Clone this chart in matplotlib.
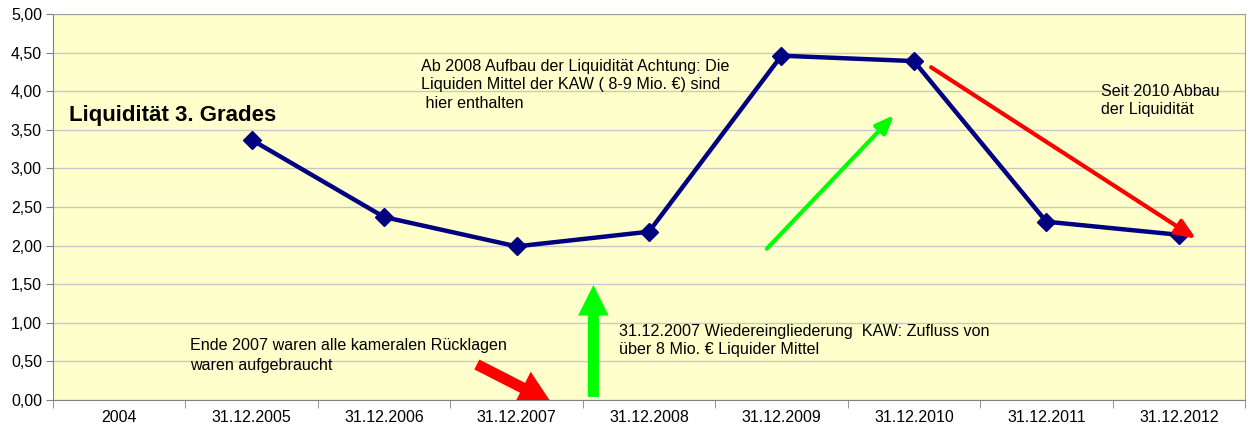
import numpy as np
import matplotlib
matplotlib.use("Agg")
import matplotlib.pyplot as plt
from matplotlib.ticker import FuncFormatter, FixedLocator

categories = ["2004", "31.12.2005", "31.12.2006", "31.12.2007", "31.12.2008",
              "31.12.2009", "31.12.2010", "31.12.2011", "31.12.2012"]
values = [np.nan, 3.37, 2.37, 1.99, 2.18, 4.46, 4.39, 2.31, 2.14]
y_ticks = [0, 0.5, 1, 1.5, 2, 2.5, 3, 3.5, 4, 4.5, 5]

plt.rcParams['font.family'] = ['Liberation Sans', 'DejaVu Sans']

fig = plt.figure(figsize=(12.51, 4.32), dpi=100)
ax = fig.add_axes([53/1251, 32/432, (1245-53)/1251, (400-14)/432])
ax.set_facecolor("#FFFFCC")

x = np.arange(len(categories))
ax.plot(x, values, color="#000080", lw=3.2, marker="D", markersize=9,
        markerfacecolor="#000080", markeredgecolor="#000080", zorder=5)

ax.set_xlim(-0.5, len(categories) - 0.5)
ax.set_ylim(0, 5)
ax.set_yticks(y_ticks)
ax.yaxis.set_major_formatter(FuncFormatter(lambda v, p: f"{v:.2f}".replace(".", ",")))
ax.grid(axis="y", color="#C8C8C8", lw=1.0, zorder=0)
ax.set_axisbelow(True)

ax.set_xticks(x)
ax.set_xticklabels(categories)
ax.xaxis.set_minor_locator(FixedLocator(np.arange(-0.5, len(categories), 1.0)))
ax.tick_params(axis="x", which="major", length=0, labelsize=11.5, pad=7)
ax.tick_params(axis="x", which="minor", length=6, color="#808080", direction="out")
ax.tick_params(axis="y", length=5, color="#808080", labelsize=11.5, pad=3)
for s in ax.spines.values():
    s.set_color("#A0A0A0")
ax.spines["left"].set_color("#808080")
ax.spines["bottom"].set_color("#808080")

fs = 11.6
# annotations
ax.text(-0.38, 3.68, "Liquidität 3. Grades", fontsize=16, fontweight="bold",
        va="center", ha="left")
ax.text(2.28, 4.42, "Ab 2008 Aufbau der Liquidität Achtung: Die\nLiquiden Mittel der KAW ( 8-9 Mio. €) sind\n hier enthalten",
        fontsize=fs, va="top", ha="left", linespacing=1.3)
ax.text(0.537, 0.58, "Ende 2007 waren alle kameralen Rücklagen\nwaren aufgebraucht",
        fontsize=fs, va="center", ha="left", linespacing=1.45)
ax.text(3.77, 0.77, "31.12.2007 Wiedereingliederung  KAW: Zufluss von\nüber 8 Mio. € Liquider Mittel",
        fontsize=fs, va="center", ha="left", linespacing=1.3)
ax.text(7.41, 3.88, "Seit 2010 Abbau\nder Liquidität",
        fontsize=fs, va="center", ha="left", linespacing=1.3)

# arrows
red_small = ax.annotate("", xy=(3.26, -0.03), xytext=(2.70, 0.46),
            arrowprops=dict(arrowstyle="simple,head_length=2.3,head_width=2.6,tail_width=0.8",
                            color="#FF0000", lw=0, shrinkA=0, shrinkB=0),
            annotation_clip=False, zorder=6)
red_small.arrow_patch.set_clip_path(ax.patch)
ax.annotate("", xy=(3.58, 1.49), xytext=(3.58, 0.04),
            arrowprops=dict(arrowstyle="simple,head_length=2.2,head_width=2.2,tail_width=0.8",
                            color="#00FF00", lw=0, shrinkA=0, shrinkB=0), zorder=6)
ax.annotate("", xy=(5.85, 3.69), xytext=(4.89, 1.96),
            arrowprops=dict(arrowstyle="-|>,head_length=1.1,head_width=0.45",
                            color="#00FF00", lw=3, shrinkA=0, shrinkB=0), zorder=6)
ax.annotate("", xy=(8.13, 2.09), xytext=(6.13, 4.31),
            arrowprops=dict(arrowstyle="-|>,head_length=1.2,head_width=0.5",
                            color="#FF0000", lw=3, shrinkA=0, shrinkB=0), zorder=6)

fig.savefig("out.png", dpi=100, facecolor="white")
